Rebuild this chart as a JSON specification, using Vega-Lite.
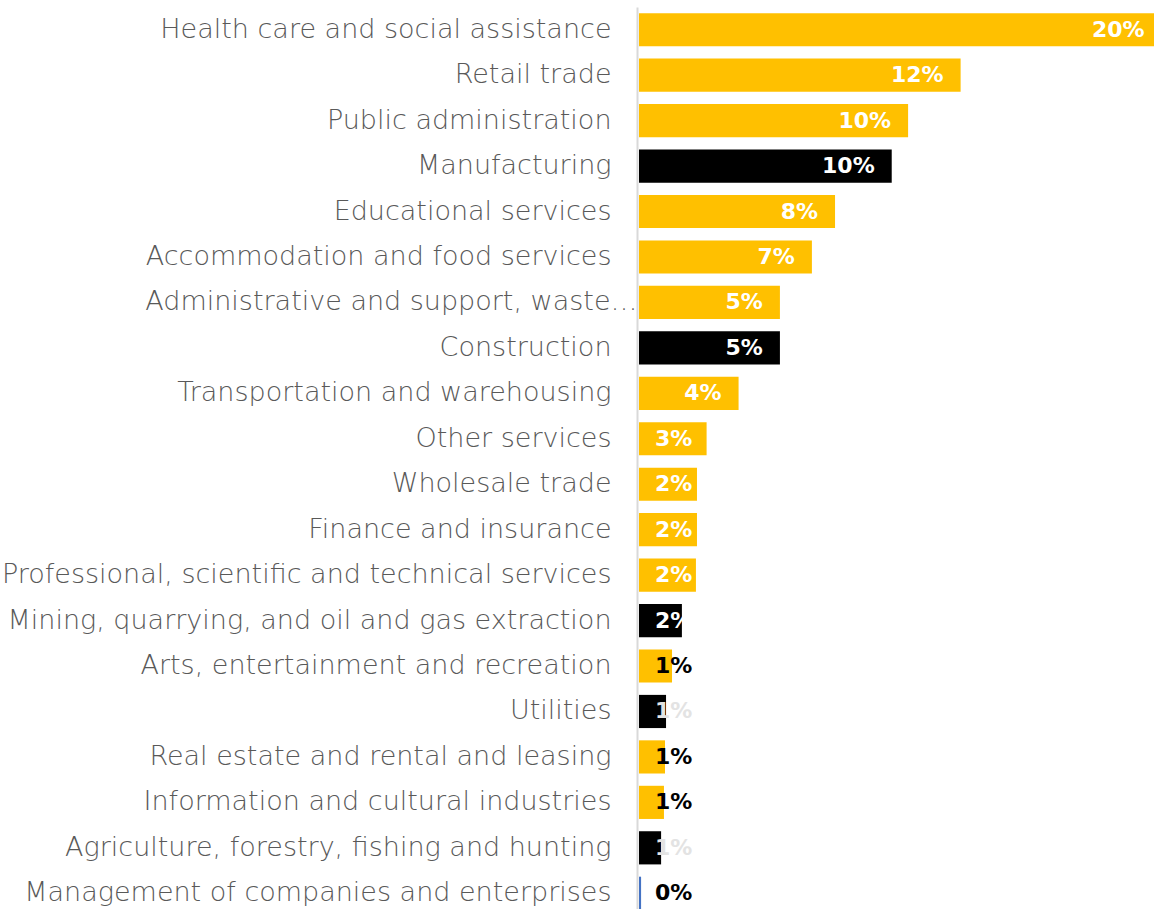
{
  "$schema": "https://vega.github.io/schema/vega-lite/v6.json",
  "autosize": "none",
  "width": 520,
  "height": 909,
  "padding": {"left": 639, "top": 7, "right": 0, "bottom": 0},
  "background": "white",
  "config": {"view": {"stroke": null}},
  "data": {
    "values": [
      {"industry": "Health care and social assistance", "share": 20.1, "group": "services"},
      {"industry": "Retail trade", "share": 12.37, "group": "services"},
      {"industry": "Public administration", "share": 10.35, "group": "services"},
      {"industry": "Manufacturing", "share": 9.72, "group": "goods"},
      {"industry": "Educational services", "share": 7.54, "group": "services"},
      {"industry": "Accommodation and food services", "share": 6.65, "group": "services"},
      {"industry": "Administrative and support, waste management and remediation services", "share": 5.42, "group": "services"},
      {"industry": "Construction", "share": 5.42, "group": "goods"},
      {"industry": "Transportation and warehousing", "share": 3.83, "group": "services"},
      {"industry": "Other services", "share": 2.6, "group": "services"},
      {"industry": "Wholesale trade", "share": 2.23, "group": "services"},
      {"industry": "Finance and insurance", "share": 2.23, "group": "services"},
      {"industry": "Professional, scientific and technical services", "share": 2.19, "group": "services"},
      {"industry": "Mining, quarrying, and oil and gas extraction", "share": 1.65, "group": "goods"},
      {"industry": "Arts, entertainment and recreation", "share": 1.27, "group": "services"},
      {"industry": "Utilities", "share": 1.04, "group": "goods"},
      {"industry": "Real estate and rental and leasing", "share": 1.0, "group": "services"},
      {"industry": "Information and cultural industries", "share": 0.96, "group": "services"},
      {"industry": "Agriculture, forestry, fishing and hunting", "share": 0.85, "group": "goods"},
      {"industry": "Management of companies and enterprises", "share": 0.08, "group": "other"}
    ]
  },
  "transform": [{"calculate": "format(datum.share, '.0f') + '%'", "as": "label"}],
  "encoding": {
    "y": {
      "field": "industry",
      "type": "nominal",
      "sort": null,
      "scale": {"paddingInner": 0.27, "paddingOuter": 0.135},
      "axis": {
        "title": null,
        "ticks": false,
        "offset": 2,
        "domainColor": "#d9d9d9",
        "domainWidth": 2,
        "labelFont": "DejaVu Sans",
        "labelFontWeight": 300,
        "labelFontSize": 27,
        "labelColor": "#595959",
        "labelLimit": 1000,
        "labelPadding": {"condition": {"test": "indexof(datum.value, 'Administrative') === 0", "value": 0}, "value": 26},
        "labelExpr": "indexof(datum.value, 'Administrative') === 0 ? 'Administrative and support, waste…' : datum.value"
      }
    }
  },
  "layer": [
    {
      "mark": {"type": "bar", "clip": false},
      "encoding": {
        "x": {
          "field": "share",
          "type": "quantitative",
          "scale": {"domain": [0, 20], "nice": false, "zero": true},
          "axis": null
        },
        "color": {
          "field": "group",
          "type": "nominal",
          "scale": {"domain": ["services", "goods", "other"], "range": ["#FFC000", "#000000", "#4472C4"]},
          "legend": null
        }
      }
    },
    {
      "transform": [{"filter": "datum.share >= 2.7"}],
      "mark": {"type": "text", "align": "right", "baseline": "middle", "dx": -17, "font": "DejaVu Sans", "fontWeight": "bold", "fontSize": 22},
      "encoding": {
        "x": {"field": "share", "type": "quantitative"},
        "text": {"field": "label"},
        "color": {"value": "white"}
      }
    },
    {
      "transform": [{"filter": "datum.share < 2.7"}],
      "mark": {"type": "text", "align": "left", "baseline": "middle", "dx": 16, "font": "DejaVu Sans", "fontWeight": "bold", "fontSize": 22},
      "encoding": {
        "x": {"datum": 0, "type": "quantitative"},
        "text": {"field": "label"},
        "color": {
          "condition": [
            {"test": "datum.share >= 1.5", "value": "white"},
            {"test": "datum.group === 'goods'", "value": "#e3e3e3"}
          ],
          "value": "black"
        }
      }
    }
  ]
}
